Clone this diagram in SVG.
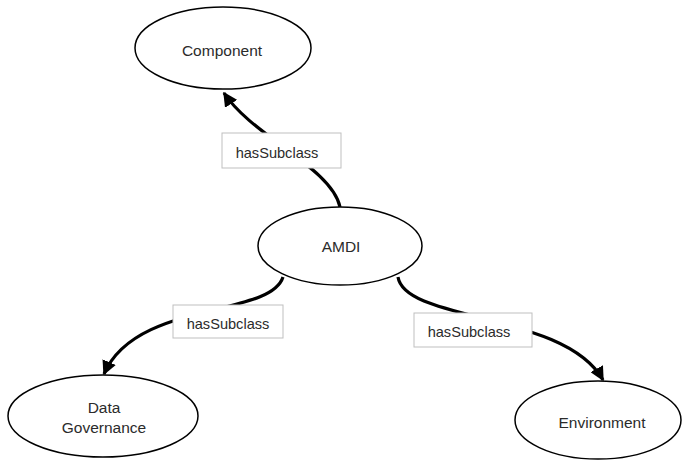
<svg xmlns="http://www.w3.org/2000/svg" width="683" height="461" viewBox="0 0 683 461">
<style>
.node ellipse{fill:#fff;stroke:#000;stroke-width:1.5}
.node text{font-family:"Liberation Sans",Arial,sans-serif;font-size:15.5px;fill:#2b2b2b;text-anchor:middle}
.edge{fill:none;stroke:#000;stroke-width:3.2}
.lbl rect{fill:#fff;stroke:#bfbfbf;stroke-width:1}
.lbl text{font-family:"Liberation Sans",Arial,sans-serif;font-size:14.6px;fill:#2b2b2b;text-anchor:middle}
</style>
<defs>
<marker id="ah" viewBox="0 0 10 10" refX="9" refY="5" markerWidth="4.5" markerHeight="4.5" markerUnits="strokeWidth" orient="auto">
<path d="M0,0 L10,5 L0,10 z" fill="#000"/>
</marker>
</defs>
<rect width="683" height="461" fill="#fff"/>
<g id="connectors">
<path class="edge" d="M340,207 C332,168 252,136 224,93" marker-end="url(#ah)"/>
<path class="edge" d="M283,277 C270,318 136,300 104,374" marker-end="url(#ah)"/>
<path class="edge" d="M398,277 C405,322 565,312 603,380" marker-end="url(#ah)"/>
<g class="lbl" id="label1"><rect x="222" y="133" width="119" height="35"/><text x="277" y="158">hasSubclass</text></g>
<g class="lbl" id="label2"><rect x="173" y="305" width="110" height="33"/><text x="228" y="329">hasSubclass</text></g>
<g class="lbl" id="label3"><rect x="414" y="313" width="118" height="34"/><text x="469" y="337">hasSubclass</text></g>
</g>
<g class="node" id="component"><ellipse cx="223" cy="48" rx="88" ry="41"/><text x="222" y="56">Component</text></g>
<g class="node" id="amdi"><ellipse cx="340" cy="246" rx="82" ry="39"/><text x="341" y="252">AMDI</text></g>
<g class="node" id="datagov"><ellipse cx="103" cy="416" rx="95" ry="41"/><text x="104" y="413">Data</text><text x="104" y="433">Governance</text></g>
<g class="node" id="environment"><ellipse cx="598" cy="420" rx="83" ry="39"/><text x="602" y="428">Environment</text></g>
</svg>
